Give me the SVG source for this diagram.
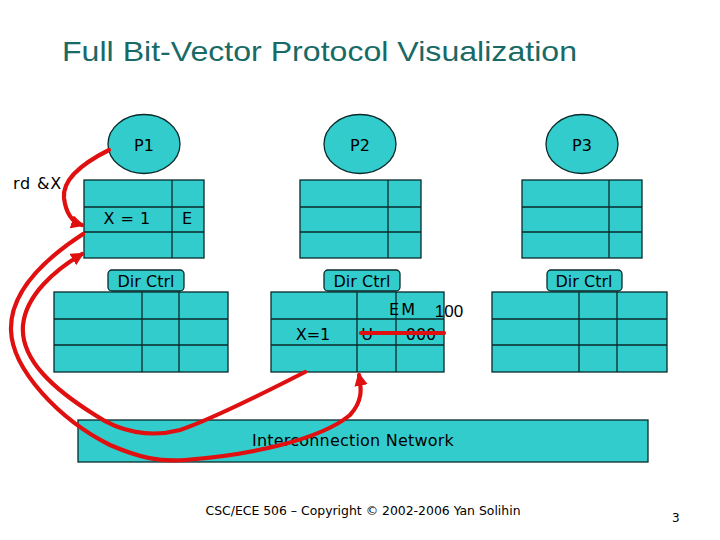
<svg xmlns="http://www.w3.org/2000/svg" width="720" height="540" viewBox="0 0 720 540">
<style>
.f{fill:#33CCCC;stroke:#0a2a2a;stroke-width:1.3}
.g{stroke:#0a2a2a;stroke-width:1.3;fill:none}
.t{font-family:"DejaVu Sans",Verdana,sans-serif;font-size:16px;fill:#000}
.r{stroke:#E01010;stroke-width:4.2;fill:none;stroke-linecap:round}
</style>
<defs>
<marker id="ah" viewBox="0 0 10 10" refX="8" refY="5" markerWidth="3.2" markerHeight="3.2" orient="auto" markerUnits="strokeWidth">
<path d="M0,0 L10,5 L0,10 z" fill="#E01010"/>
</marker>
</defs>
<rect width="720" height="540" fill="#fff"/>
<text x="62" y="61" font-family="'Liberation Sans',Arial,sans-serif" font-size="28" fill="#186A66" textLength="515" lengthAdjust="spacingAndGlyphs">Full Bit-Vector Protocol Visualization</text>

<g id="p1"><ellipse class="f" cx="144" cy="144" rx="36" ry="29.5"/><text class="t" x="144" y="151" text-anchor="middle">P1</text></g>
<g id="p2"><ellipse class="f" cx="360" cy="144" rx="36" ry="29.5"/><text class="t" x="360" y="151" text-anchor="middle">P2</text></g>
<g id="p3"><ellipse class="f" cx="582" cy="144" rx="36" ry="29.5"/><text class="t" x="582" y="151" text-anchor="middle">P3</text></g>

<g id="cache1"><rect class="f" x="84" y="180" width="120" height="78"/><path class="g" d="M172,180V258M84,207H204M84,232H204"/>
<text class="t" x="127" y="224" text-anchor="middle" letter-spacing="0.5">X = 1</text><text class="t" x="187" y="224" text-anchor="middle">E</text></g>
<g id="cache2"><rect class="f" x="300" y="180" width="121" height="78"/><path class="g" d="M388,180V258M300,207H421M300,232H421"/></g>
<g id="cache3"><rect class="f" x="522" y="180" width="120" height="78"/><path class="g" d="M609,180V258M522,207H642M522,232H642"/></g>

<g id="dirctrl1"><rect class="f" x="108" y="270" width="76" height="21" rx="4"/><text class="t" x="146" y="287" text-anchor="middle">Dir Ctrl</text></g>
<g id="dirctrl2"><rect class="f" x="324" y="270" width="76" height="21" rx="4"/><text class="t" x="362" y="287" text-anchor="middle">Dir Ctrl</text></g>
<g id="dirctrl3"><rect class="f" x="547" y="270" width="75" height="21" rx="4"/><text class="t" x="584" y="287" text-anchor="middle">Dir Ctrl</text></g>

<g id="dir1"><rect class="f" x="54" y="292" width="174" height="80"/><path class="g" d="M142,292V372M179,292V372M54,319H228M54,345H228"/></g>
<g id="dir2"><rect class="f" x="271" y="292" width="173" height="80"/><path class="g" d="M357,292V372M396,292V372M271,319H444M271,345H444"/>
<text class="t" x="313" y="340" text-anchor="middle">X=1</text>
<text class="t" x="367" y="340" text-anchor="middle">U</text>
<text class="t" x="421" y="340" text-anchor="middle">000</text>
<text class="t" x="403" y="315" text-anchor="middle" letter-spacing="2">EM</text>
<text x="449" y="317" font-family="'Liberation Sans',Arial,sans-serif" font-size="17" text-anchor="middle">100</text></g>
<g id="dir3"><rect class="f" x="492" y="292" width="175" height="80"/><path class="g" d="M579,292V372M617,292V372M492,319H667M492,345H667"/></g>

<g id="network"><rect class="f" x="78" y="420" width="570" height="42"/><text class="t" x="353" y="446" text-anchor="middle" letter-spacing="0.2">Interconnection Network</text></g>

<text class="t" x="13" y="189" letter-spacing="0.8">rd &amp;X</text>

<g id="connectors">
<path class="r" d="M109,150 C85,162 62,178 64,198 C66,214 72,222 82,225" marker-end="url(#ah)"/>
<path class="r" d="M83,234 C40,262 10,295 11,330 C12,370 60,420 110,445 C140,458 160,462 185,460 C250,455 320,440 350,415 C362,402 362,390 359,375" marker-end="url(#ah)"/>
<path class="r" d="M305,372 C260,395 210,420 180,430 C150,438 120,432 95,415 C55,390 20,360 23,325 C26,295 55,270 82,254" marker-end="url(#ah)"/>
<path class="r" d="M361,333 H444" stroke-linecap="butt" stroke-width="4"/>
</g>

<text x="363" y="515" font-family="'DejaVu Sans',Tahoma,sans-serif" font-size="12" text-anchor="middle" textLength="315" lengthAdjust="spacingAndGlyphs">CSC/ECE 506 – Copyright © 2002-2006 Yan Solihin</text>
<text x="672" y="522" font-family="'DejaVu Sans',Tahoma,sans-serif" font-size="12">3</text>
</svg>
